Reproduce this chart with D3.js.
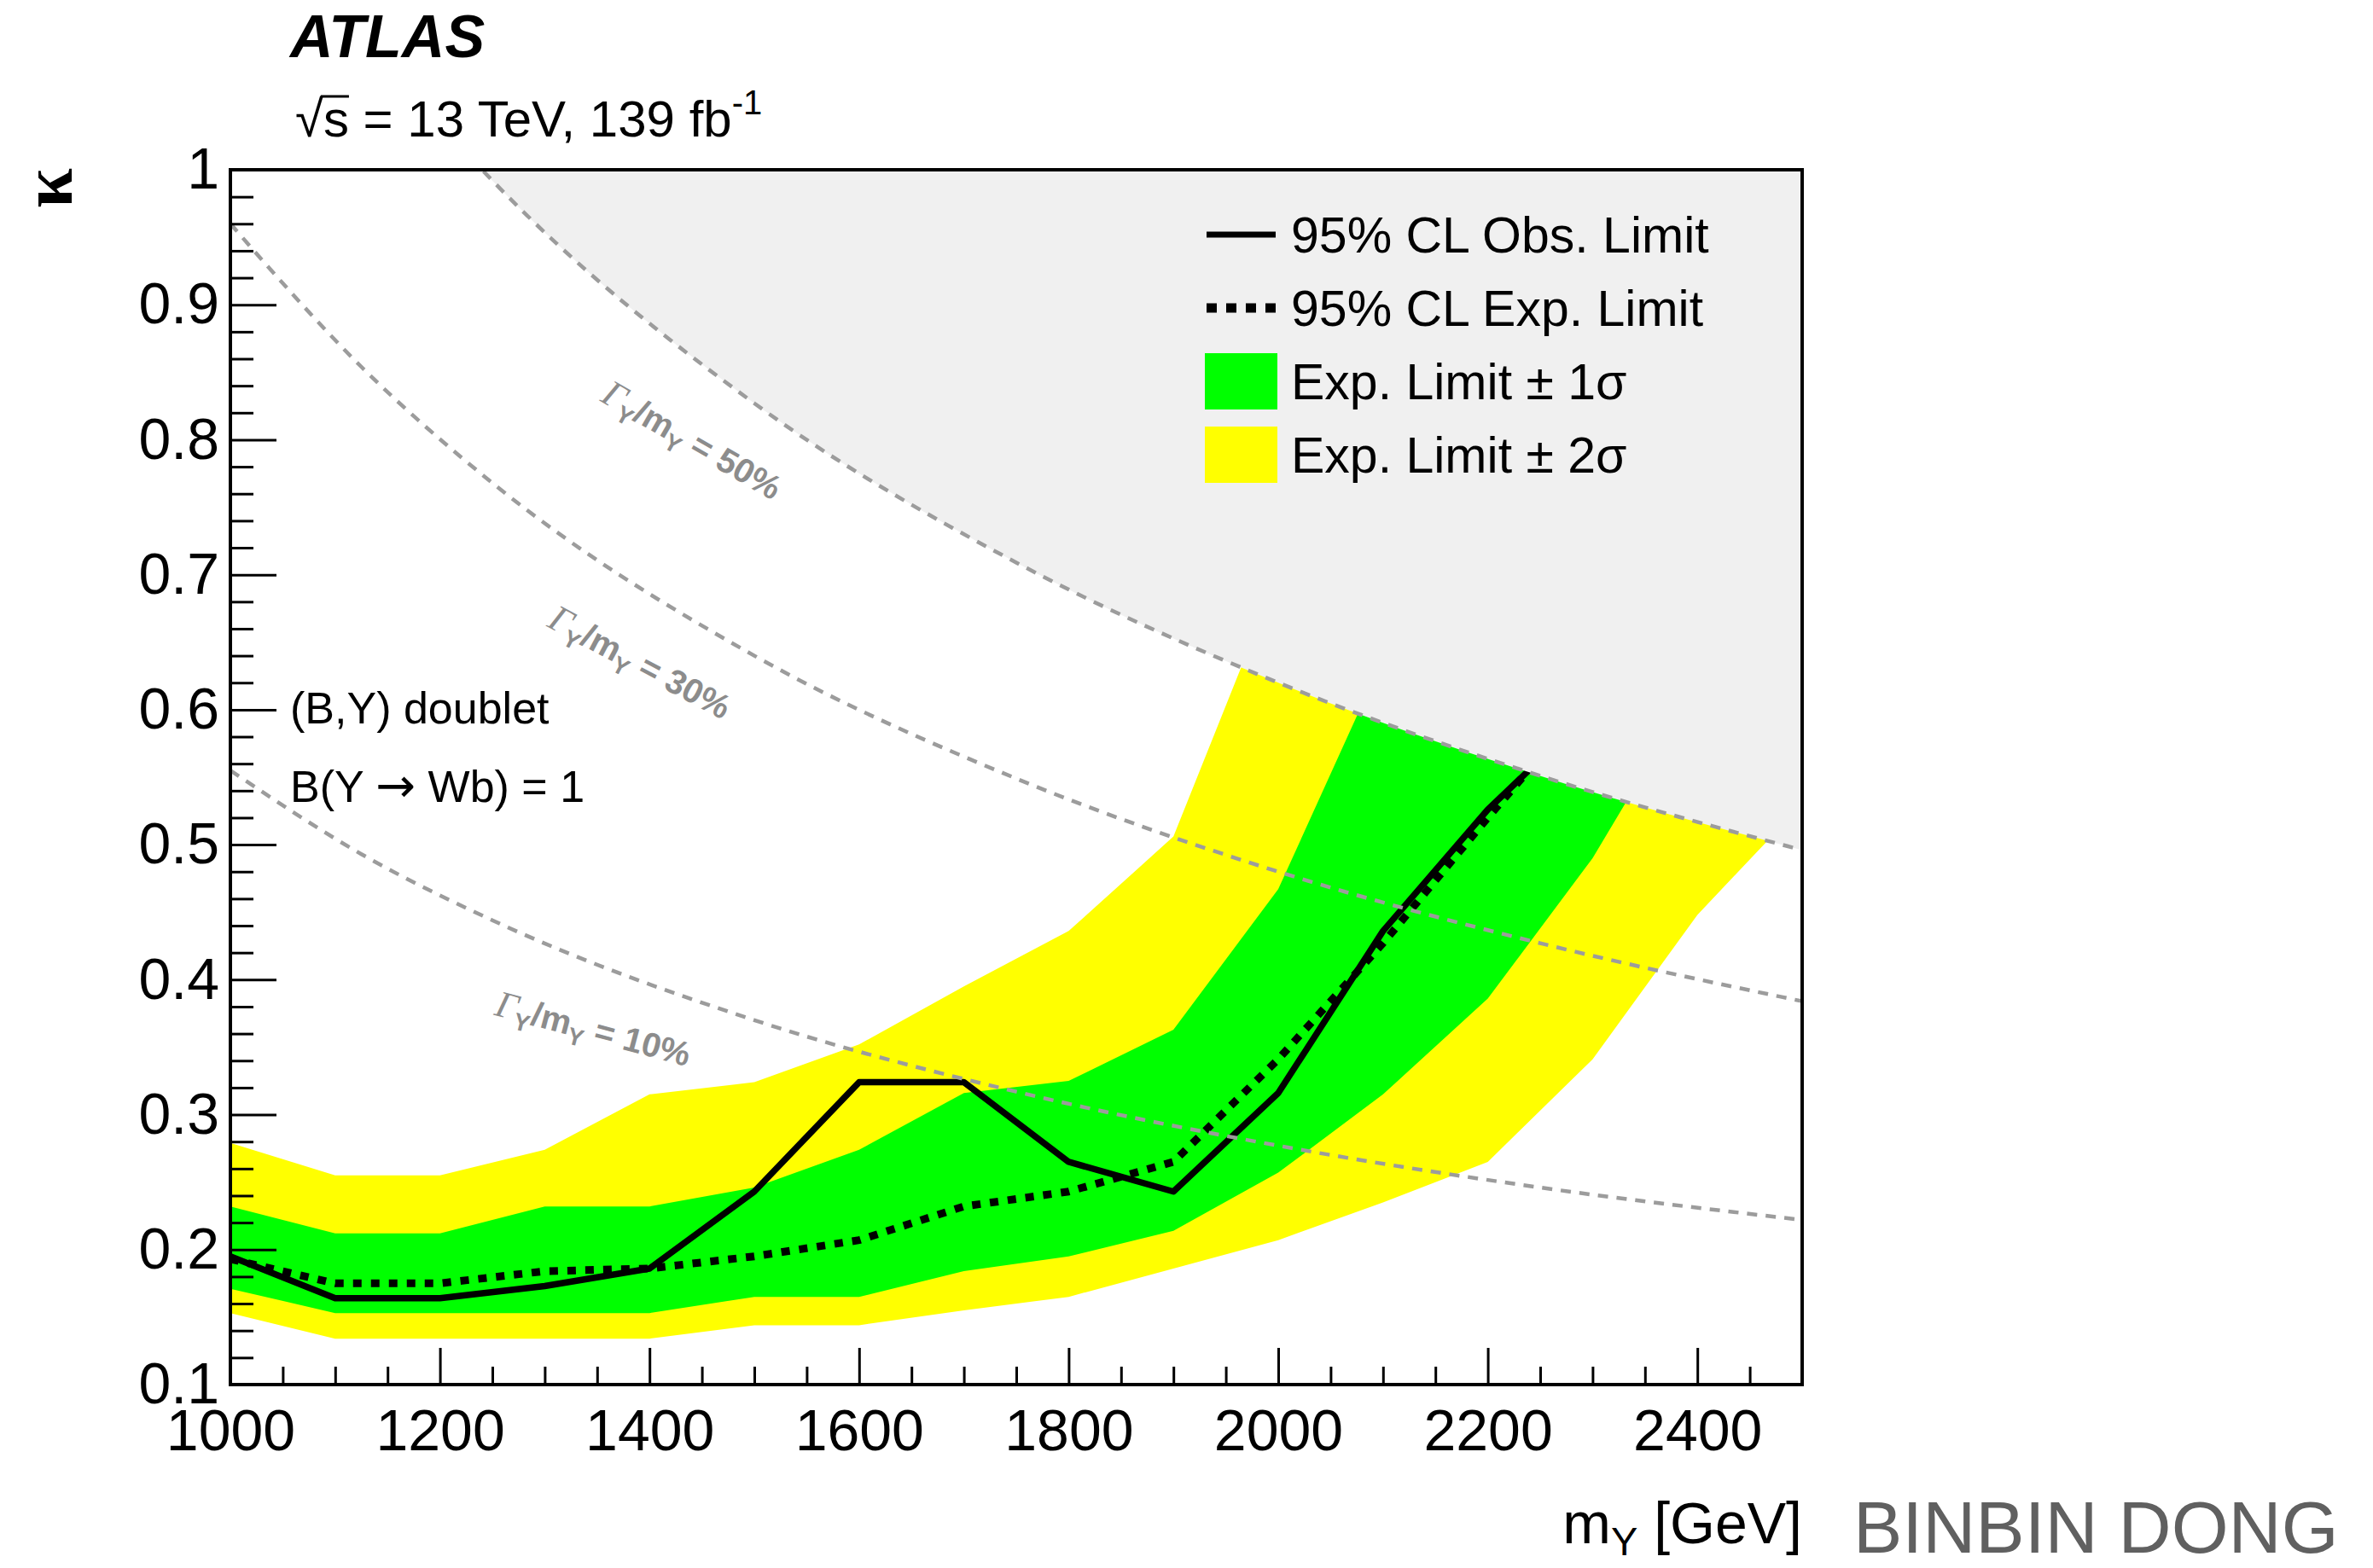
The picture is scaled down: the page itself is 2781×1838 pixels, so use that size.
<!DOCTYPE html>
<html>
<head>
<meta charset="utf-8">
<script src="https://cdn.jsdelivr.net/npm/d3@7"></script>
<style>
  body { margin: 0; background: #fff; }
  svg { display: block; font-family: "Liberation Sans", Arial, Helvetica, sans-serif; }
</style>
</head>
<body>
<div id="chart"></div>
<script>
// ---- data ----
var masses = [1000, 1100, 1200, 1300, 1400, 1500, 1600, 1700, 1800, 1900, 2000, 2100, 2200, 2300, 2400, 2500];
var obsLimit = [0.195, 0.164, 0.164, 0.173, 0.186, 0.243, 0.324, 0.324, 0.265, 0.243, 0.316, 0.436, 0.526, 0.600];
var expLimit = [0.193, 0.175, 0.175, 0.184, 0.186, 0.195, 0.207, 0.232, 0.243, 0.265, 0.341, 0.427, 0.520, 0.610];
var sigma1Up = [0.232, 0.212, 0.212, 0.232, 0.232, 0.246, 0.274, 0.316, 0.325, 0.363, 0.467, 0.638, 0.800, 0.950, 1.100, 1.250];
var sigma1Down = [0.171, 0.153, 0.153, 0.153, 0.153, 0.165, 0.165, 0.184, 0.195, 0.214, 0.257, 0.315, 0.386, 0.490, 0.620, 0.750];
var sigma2Up = [0.279, 0.255, 0.255, 0.274, 0.315, 0.324, 0.352, 0.395, 0.436, 0.506, 0.700, 0.850, 1.000, 1.150, 1.300, 1.450];
var sigma2Down = [0.153, 0.134, 0.134, 0.134, 0.134, 0.144, 0.144, 0.155, 0.165, 0.186, 0.207, 0.235, 0.265, 0.341, 0.448, 0.530];

// width contours Gamma_Y / m_Y
var widthMasses = [1000, 1125, 1250, 1500, 1750, 2000, 2250, 2500];
var width50 = [1.240, 1.102, 0.992, 0.827, 0.709, 0.620, 0.551, 0.496];
var width30 = [0.960, 0.854, 0.768, 0.640, 0.549, 0.480, 0.427, 0.384];
var width10 = [0.555, 0.493, 0.444, 0.370, 0.317, 0.277, 0.246, 0.222];
var widthLabels = ["50%", "30%", "10%"];

var xMajorTicks = [1000, 1200, 1400, 1600, 1800, 2000, 2200, 2400];
var yMajorTicks = [0.1, 0.2, 0.3, 0.4, 0.5, 0.6, 0.7, 0.8, 0.9, 1];
var legendLabels = ["95% CL Obs. Limit", "95% CL Exp. Limit", "Exp. Limit \u00b1 1\u03c3", "Exp. Limit \u00b1 2\u03c3"];

// ---- layout ----
var W = 2781, H = 1838;
var frame = { left: 270, right: 2112, top: 199, bottom: 1623 };

var svg = d3.select("#chart")
  .append("svg")
  .attr("width", W)
  .attr("height", H);

var x = d3.scaleLinear().domain([1000, 2500]).range([frame.left, frame.right]);
var y = d3.scaleLinear().domain([0.1, 1]).range([frame.bottom, frame.top]);

svg.append("clipPath").attr("id", "plotclip")
  .append("rect")
  .attr("x", frame.left).attr("y", frame.top)
  .attr("width", frame.right - frame.left).attr("height", frame.bottom - frame.top);

var plot = svg.append("g").attr("clip-path", "url(#plotclip)");

// bands
var bandData = masses.map(function (m, i) {
  return { m: m, u1: sigma1Up[i], d1: sigma1Down[i], u2: sigma2Up[i], d2: sigma2Down[i] };
});
plot.append("path")
  .datum(bandData)
  .attr("fill", "#ffff00")
  .attr("d", d3.area().x(function (d) { return x(d.m); })
    .y0(function (d) { return y(d.d2); }).y1(function (d) { return y(d.u2); }));
plot.append("path")
  .datum(bandData)
  .attr("fill", "#00ff00")
  .attr("d", d3.area().x(function (d) { return x(d.m); })
    .y0(function (d) { return y(d.d1); }).y1(function (d) { return y(d.u1); }));

// limit lines
var limLine = d3.line().x(function (d) { return x(d[0]); }).y(function (d) { return y(d[1]); });
plot.append("path")
  .datum(expLimit.map(function (v, i) { return [masses[i], v]; }))
  .attr("fill", "none").attr("stroke", "#000")
  .attr("stroke-width", 9).attr("stroke-dasharray", "10,11")
  .attr("d", limLine);
plot.append("path")
  .datum(obsLimit.map(function (v, i) { return [masses[i], v]; }))
  .attr("fill", "none").attr("stroke", "#000")
  .attr("stroke-width", 7.5).attr("stroke-linejoin", "round")
  .attr("d", limLine);

// excluded (Gamma/m > 50%) region
var w50 = widthMasses.map(function (m, i) { return [m, width50[i]]; });
plot.append("path")
  .datum(w50)
  .attr("fill", "#f0f0f0")
  .attr("d", d3.area().curve(d3.curveMonotoneX)
    .x(function (d) { return x(d[0]); })
    .y0(function (d) { return y(d[1]); })
    .y1(y(1)));

// dashed width contours
var curveLine = d3.line().curve(d3.curveMonotoneX)
  .x(function (d) { return x(d[0]); }).y(function (d) { return y(d[1]); });
[width50, width30, width10].forEach(function (vals) {
  plot.append("path")
    .datum(widthMasses.map(function (m, i) { return [m, vals[i]]; }))
    .attr("fill", "none").attr("stroke", "#9c9c9c")
    .attr("stroke-width", 4.5).attr("stroke-dasharray", "12,10")
    .attr("d", curveLine);
});

// contour labels
var labelPos = [[1352, 0.829, 30], [1301, 0.662, 28], [1251, 0.374, 15]];
widthLabels.forEach(function (lab, i) {
  var t = svg.append("text")
    .attr("transform", "translate(" + x(labelPos[i][0]) + "," + y(labelPos[i][1]) + ") rotate(" + labelPos[i][2] + ")")
    .attr("fill", "#8c8c8c")
    .attr("font-weight", "bold")
    .attr("font-size", 40);
  t.append("tspan").attr("font-family", "'Liberation Serif', serif").attr("font-style", "italic")
    .attr("font-weight", "normal").attr("font-size", 44).text("\u0393");
  t.append("tspan").attr("font-size", 28).attr("dy", 10).text("Y");
  t.append("tspan").attr("dy", -10).text("/m");
  t.append("tspan").attr("font-size", 28).attr("dy", 10).text("Y");
  t.append("tspan").attr("dy", -10).text(" = " + lab);
});

// ---- axes ----
var xMinor = d3.range(1000, 2500, 50).filter(function (v) { return v % 200 !== 0; });
var yMinor = d3.range(5, 50).map(function (i) { return i / 50; }).filter(function (v, i) { return (i + 5) % 5 !== 0; });

var gx = svg.append("g").attr("transform", "translate(0," + frame.bottom + ")")
  .call(d3.axisBottom(x).tickValues(xMajorTicks).tickSize(-43).tickPadding(29).tickFormat(d3.format("d")));
var gxm = svg.append("g").attr("transform", "translate(0," + frame.bottom + ")")
  .call(d3.axisBottom(x).tickValues(xMinor).tickSize(-21).tickFormat(""));
var gy = svg.append("g").attr("transform", "translate(" + frame.left + ",0)")
  .call(d3.axisLeft(y).tickValues(yMajorTicks).tickSize(-54).tickPadding(13)
    .tickFormat(function (d) { return d === 1 ? "1" : d.toFixed(1); }));
var gym = svg.append("g").attr("transform", "translate(" + frame.left + ",0)")
  .call(d3.axisLeft(y).tickValues(yMinor).tickSize(-27).tickFormat(""));

[gx, gxm, gy, gym].forEach(function (g) {
  g.select(".domain").remove();
  g.selectAll(".tick line").attr("stroke", "#000").attr("stroke-width", 3);
  g.attr("font-family", null).attr("font-size", 68);
  g.selectAll("text").attr("fill", "#000");
});

svg.append("rect")
  .attr("x", frame.left).attr("y", frame.top)
  .attr("width", frame.right - frame.left).attr("height", frame.bottom - frame.top)
  .attr("fill", "none").attr("stroke", "#000").attr("stroke-width", 4);

// axis titles
var xt = svg.append("text")
  .attr("x", frame.right).attr("y", 1809)
  .attr("text-anchor", "end").attr("font-size", 68);
xt.append("tspan").text("m");
xt.append("tspan").attr("font-size", 47).attr("dy", 14).text("Y");
xt.append("tspan").attr("dy", -14).text(" [GeV]");

svg.append("text")
  .attr("transform", "translate(84," + (frame.top - 2) + ") rotate(-90)")
  .attr("text-anchor", "end")
  .attr("font-family", "'Liberation Serif', serif")
  .attr("font-weight", "bold")
  .attr("font-size", 84)
  .text("\u03ba");

// ---- header texts ----
svg.append("text")
  .attr("x", 340).attr("y", 67)
  .attr("font-size", 70).attr("font-weight", "bold").attr("font-style", "italic")
  .text("ATLAS");

var lumi = svg.append("text").attr("x", 346).attr("y", 160).attr("font-size", 60);
lumi.append("tspan").text("\u221as = 13 TeV, 139 fb");
lumi.append("tspan").attr("font-size", 40).attr("dy", -26).text("-1");
var lumiNode = lumi.node();
var r0 = lumiNode.getExtentOfChar(0), r1 = lumiNode.getExtentOfChar(1);
svg.append("line")
  .attr("x1", r0.x + r0.width - 3).attr("x2", r1.x + r1.width)
  .attr("y1", 160 - 47).attr("y2", 160 - 47)
  .attr("stroke", "#000").attr("stroke-width", 3);

svg.append("text").attr("x", 340).attr("y", 848).attr("font-size", 52).text("(B,Y) doublet");
var bt = svg.append("text").attr("x", 340).attr("y", 940).attr("font-size", 52);
bt.append("tspan").text("B(Y ");
bt.append("tspan").attr("font-family", "'DejaVu Sans', sans-serif").attr("font-size", 56).text("\u2192");
bt.append("tspan").text(" Wb) = 1");

// ---- legend ----
var legend = svg.append("g").attr("transform", "translate(1412,275)")
  .selectAll("g")
  .data(legendLabels)
  .join("g")
  .attr("transform", function (d, i) { return "translate(0," + i * 86 + ")"; });

legend.each(function (d, i) {
  var g = d3.select(this);
  if (i === 0) {
    g.append("line").attr("x1", 2).attr("x2", 83).attr("stroke", "#000").attr("stroke-width", 7);
  } else if (i === 1) {
    g.append("line").attr("x1", 2).attr("x2", 86).attr("stroke", "#000")
      .attr("stroke-width", 11).attr("stroke-dasharray", "12,11");
  } else {
    g.append("rect").attr("x", 0).attr("y", -33).attr("width", 85).attr("height", 66)
      .attr("fill", i === 2 ? "#00ff00" : "#ffff00");
  }
  g.append("text").attr("x", 101).attr("dy", "0.35em").attr("font-size", 59).text(d);
});

// watermark
svg.append("text")
  .attr("x", 2172).attr("y", 1820)
  .attr("font-size", 86).attr("fill", "#606060")
  .text("BINBIN DONG");
</script>
</body>
</html>
